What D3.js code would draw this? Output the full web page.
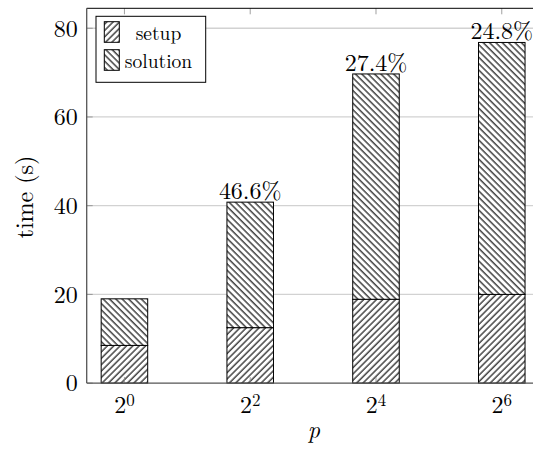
<!DOCTYPE html>
<html>
<head>
<meta charset="utf-8">
<script src="https://cdn.jsdelivr.net/npm/d3@7"></script>
<style>
  html, body { margin: 0; padding: 0; background: #fff; }
  svg { display: block; }
</style>
</head>
<body>
<svg id="chart" width="533" height="453"></svg>
<script>
// Process counts p = 2^k, stored as the exponent k
const exponents = [0, 2, 4, 6];
// Time spent in each phase (seconds)
const setupTimes = [8.5, 12.5, 18.9, 20.0];
const solutionTimes = [10.5, 28.3, 50.8, 56.8];
// Labels printed above the stacked bars (none over the first one)
const barLabels = ["", "46.6%", "27.4%", "24.8%"];
const yTicks = [0, 20, 40, 60, 80];
const seriesNames = ["setup", "solution"];

const FONT = "'Latin Modern Roman', 'Liberation Serif', serif";

const svg = d3.select("#chart").attr("font-family", FONT);

const plot = { left: 86.7, right: 539.5, top: 8.3, bottom: 383.1 };

const x = d3.scaleLinear().domain([-0.6, 6.6]).range([plot.left, plot.right]);
const y = d3.scaleLinear().domain([0, 84.5]).range([plot.bottom, plot.top]);
const halfBar = 0.37;

// Hatch patterns: "/" for setup, "\" for solution
const defs = svg.append("defs");
function hatch(id, angle) {
  const p = defs.append("pattern")
    .attr("id", id)
    .attr("patternUnits", "userSpaceOnUse")
    .attr("width", 4.5).attr("height", 10)
    .attr("patternTransform", `rotate(${angle})`);
  p.append("rect").attr("width", 4.5).attr("height", 10).attr("fill", "#fff");
  p.append("line").attr("x1", 1).attr("x2", 1).attr("y1", 0).attr("y2", 10)
    .attr("stroke", "#000").attr("stroke-width", 1.1);
}
hatch("hatch-setup", 45);
hatch("hatch-solution", -45);
const fills = ["url(#hatch-setup)", "url(#hatch-solution)"];

// Horizontal grid
svg.append("g")
  .selectAll("line")
  .data(yTicks.filter(d => d > 0))
  .join("line")
  .attr("x1", plot.left).attr("x2", plot.right)
  .attr("y1", d => y(d)).attr("y2", d => y(d))
  .attr("stroke", "#d2d2d2").attr("stroke-width", 1.3);

// Stacked bars
const stackData = exponents.map((e, i) => ({ e, setup: setupTimes[i], solution: solutionTimes[i] }));
const stacked = d3.stack().keys(seriesNames)(stackData);

svg.append("g")
  .selectAll("g")
  .data(stacked)
  .join("g")
  .attr("fill", (d, i) => fills[i])
  .selectAll("rect")
  .data(d => d)
  .join("rect")
  .attr("x", d => x(d.data.e - halfBar))
  .attr("width", d => x(d.data.e + halfBar) - x(d.data.e - halfBar))
  .attr("y", d => y(d[1]))
  .attr("height", d => y(d[0]) - y(d[1]))
  .attr("stroke", "#000").attr("stroke-width", 1);

// Small tick marks inside the plot
const tickG = svg.append("g").attr("stroke", "#888").attr("stroke-width", 0.8);
tickG.selectAll("line.xb").data(exponents).join("line").attr("class", "xb")
  .attr("x1", d => x(d)).attr("x2", d => x(d))
  .attr("y1", plot.bottom).attr("y2", plot.bottom - 6);
tickG.selectAll("line.xt").data(exponents).join("line").attr("class", "xt")
  .attr("x1", d => x(d)).attr("x2", d => x(d))
  .attr("y1", plot.top).attr("y2", plot.top + 6);
tickG.selectAll("line.yl").data(yTicks).join("line").attr("class", "yl")
  .attr("x1", plot.left).attr("x2", plot.left + 6)
  .attr("y1", d => y(d)).attr("y2", d => y(d));

// Axis frame
svg.append("line")
  .attr("x1", plot.left).attr("x2", plot.right)
  .attr("y1", plot.top).attr("y2", plot.top)
  .attr("stroke", "#000").attr("stroke-width", 1);
svg.append("line")
  .attr("x1", plot.left).attr("x2", plot.left)
  .attr("y1", plot.top).attr("y2", plot.bottom)
  .attr("stroke", "#555").attr("stroke-width", 1.3);
svg.append("line")
  .attr("x1", plot.left).attr("x2", plot.right)
  .attr("y1", plot.bottom).attr("y2", plot.bottom)
  .attr("stroke", "#555").attr("stroke-width", 1.3);

// Y tick labels
svg.append("g")
  .selectAll("text")
  .data(yTicks)
  .join("text")
  .attr("x", plot.left - 9)
  .attr("y", d => y(d) + 8.3)
  .attr("text-anchor", "end")
  .attr("font-size", 24)
  .text(d => d);

// X tick labels: 2^k
const xl = svg.append("g")
  .selectAll("text")
  .data(exponents)
  .join("text")
  .attr("x", d => x(d))
  .attr("y", 413)
  .attr("text-anchor", "middle")
  .attr("font-size", 24);
xl.append("tspan").text("2");
xl.append("tspan").attr("dy", -7.5).attr("font-size", 17).text(d => d);

// Labels above bars
svg.append("g")
  .selectAll("text")
  .data(stackData.map((d, i) => ({ e: d.e, total: d.setup + d.solution, label: barLabels[i] })).filter(d => d.label))
  .join("text")
  .attr("x", d => x(d.e))
  .attr("y", d => y(d.total) - 3.4)
  .attr("text-anchor", "middle")
  .attr("font-size", 24)
  .text(d => d.label);

// Axis titles
svg.append("text")
  .attr("x", 314).attr("y", 438)
  .attr("text-anchor", "middle")
  .attr("font-size", 24)
  .attr("font-style", "italic")
  .text("p");
svg.append("text")
  .attr("transform", "translate(33,197) rotate(-90)")
  .attr("text-anchor", "middle")
  .attr("font-size", 24)
  .text("time (s)");

// Legend
const legend = svg.append("g");
legend.append("rect")
  .attr("x", 96).attr("y", 16.3).attr("width", 109.7).attr("height", 66)
  .attr("fill", "#fff").attr("stroke", "#000").attr("stroke-width", 1);
const rows = legend.selectAll("g.row").data(seriesNames).join("g").attr("class", "row")
  .attr("transform", (d, i) => `translate(0, ${i * 28})`);
rows.append("rect")
  .attr("x", 104.3).attr("y", 21.7).attr("width", 15).attr("height", 20.6)
  .attr("fill", (d, i) => fills[i]).attr("stroke", "#000").attr("stroke-width", 1);
rows.append("text")
  .attr("x", 158.5).attr("y", 39.5)
  .attr("text-anchor", "middle")
  .attr("font-size", 19.5)
  .text(d => d);
</script>
</body>
</html>
